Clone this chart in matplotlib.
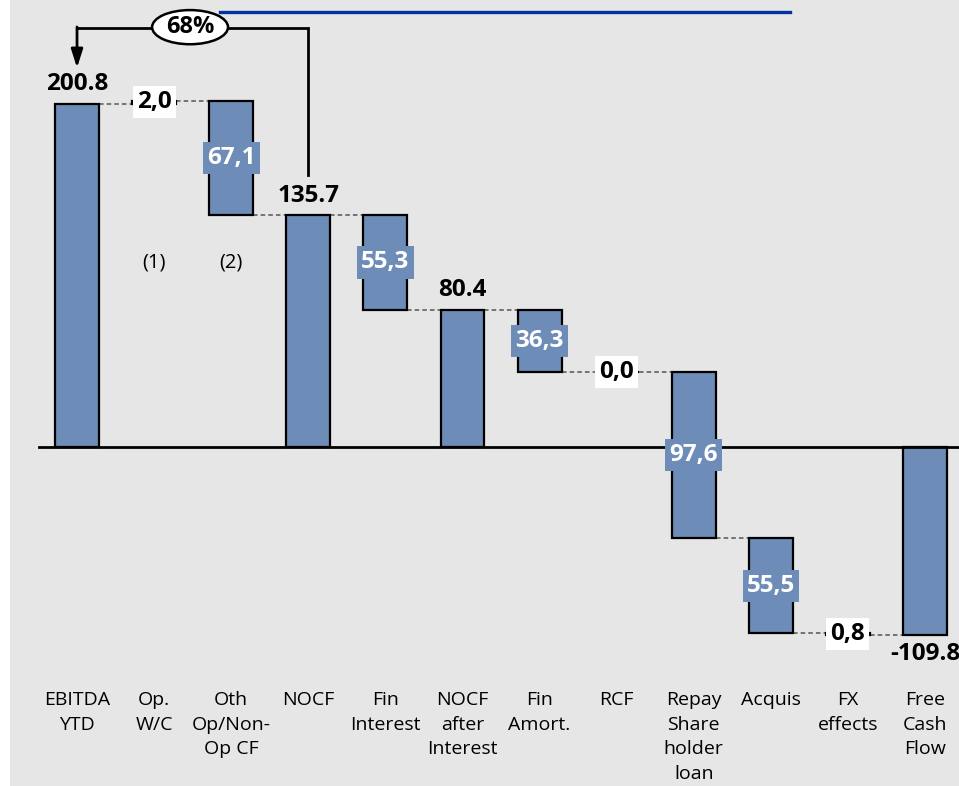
import matplotlib.pyplot as plt
from matplotlib.patches import Rectangle, Ellipse

plt.rcParams['font.family'] = ['Open Sans', 'DejaVu Sans']

categories = ['EBITDA\nYTD', 'Op.\nW/C', 'Oth\nOp/Non-\nOp CF', 'NOCF', 'Fin\nInterest',
              'NOCF\nafter\nInterest', 'Fin\nAmort.', 'RCF', 'Repay\nShare\nholder\nloan',
              'Acquis', 'FX\neffects', 'Free\nCash\nFlow']
values = [200.8, 2.0, -67.1, 135.7, -55.3, 80.4, -36.3, 0.0, -97.6, -55.5, -0.8, -109.8]
is_total = [True, False, False, True, False, True, False, False, False, False, False, True]
notes = {1: '(1)', 2: '(2)'}

BAR = '#6d8cb8'
BG = '#e6e6e6'
W = 0.57

fig = plt.figure(figsize=(9.59, 7.86), dpi=100)
ax = fig.add_axes([0, 0, 1, 1])
ax.set_xlim(-0.999, 11.44)
ax.set_ylim(-198.5, 261.7)
ax.axis('off')
# grey slide area, white strip on the left
ax.add_patch(Rectangle((10 / 959, 0), 1, 1, transform=ax.transAxes,
                       facecolor=BG, edgecolor='none', zorder=0))

# waterfall bars
level = 0.0
ends = []
for i, (v, tot) in enumerate(zip(values, is_total)):
    if tot:
        bottom, top = 0.0, v
        level = v
    else:
        bottom, top = level, level + v
        level = level + v
    ends.append(level)
    ax.bar(i, top - bottom, bottom=bottom, width=W, color=BAR, edgecolor='black',
           linewidth=1.6, zorder=3)

    if tot:
        if v >= 0:
            ax.text(i, top + 4.5, f'{v:.1f}', ha='center', va='bottom', fontsize=17.5,
                    fontweight='bold', zorder=6)
        else:
            ax.text(i, top - 4.5, f'{v:.1f}', ha='center', va='top', fontsize=17.5,
                    fontweight='bold', zorder=6)
    else:
        txt = f'{abs(v):.1f}'.replace('.', ',')
        mid = (bottom + top) / 2
        if abs(v) < 5:
            ax.text(i, mid, txt, ha='center', va='center', fontsize=17.5, fontweight='bold',
                    color='black', zorder=6,
                    bbox=dict(boxstyle='square,pad=0.17', facecolor='white', edgecolor='none'))
        else:
            ax.text(i, mid, txt, ha='center', va='center', fontsize=17.5, fontweight='bold',
                    color='white', zorder=6,
                    bbox=dict(boxstyle='square,pad=0.17', facecolor=BAR, edgecolor='none'))

# dashed connectors
for i in range(len(values) - 1):
    ax.plot([i + W / 2, i + 1 - W / 2], [ends[i], ends[i]], color='#555555',
            linestyle=(0, (3, 2)), linewidth=1.1, zorder=2)

# zero line
ax.axhline(0, xmin=39 / 959, xmax=1, color='black', linewidth=2, zorder=4)

# category labels
for i, lab in enumerate(categories):
    ax.text(i, -143, lab, ha='center', va='top', fontsize=14, linespacing=1.47)

for i, n in notes.items():
    ax.text(i, 108, n, ha='center', va='center', fontsize=14.5)

# conversion bracket NOCF -> EBITDA
top_y = 245.3
ax.plot([3, 3, 0], [values[3] + 23.6, top_y, top_y], color='black', linewidth=2,
        zorder=5, solid_joinstyle='miter')
ax.annotate('', xy=(0, 222), xytext=(0, top_y + 0.6),
            arrowprops=dict(arrowstyle='-|>,head_length=1.1,head_width=0.35',
                            color='black', lw=2, shrinkA=0, shrinkB=0), zorder=5)
ratio = values[3] / values[0] * 100
ax.add_patch(Ellipse((1.466, top_y + 0.5), width=0.985, height=20, facecolor='white',
                     edgecolor='black', linewidth=1.8, zorder=6))
ax.text(1.466, top_y + 0.5, f'{ratio:.0f}%', ha='center', va='center', fontsize=17,
        fontweight='bold', zorder=7)

# header rule (cut off at top of the slide)
ax.plot([(220 - 77) / 77.1, (790 - 77) / 77.1], [254.6, 254.6], color='#0033a0',
        linewidth=2.4, zorder=5)

fig.savefig('out.png', dpi=100)
